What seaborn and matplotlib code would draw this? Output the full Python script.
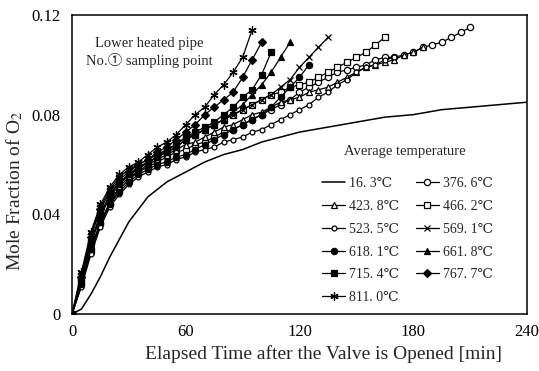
import numpy as np
import pandas as pd
import seaborn as sns
import matplotlib.pyplot as plt
from matplotlib.ticker import MultipleLocator, FuncFormatter

# 16.3 C run: continuous line, uneven time points
t_room = [0, 5, 10, 15, 20, 25, 30, 40, 50, 60, 70, 80, 90, 100, 110, 120,
          135, 150, 165, 180, 195, 210, 225, 240]
y_room = [0, 0.002, 0.008, 0.015, 0.023, 0.030, 0.037, 0.047, 0.053, 0.057, 0.061, 0.064,
          0.066, 0.069, 0.071, 0.073, 0.075, 0.077, 0.079, 0.080, 0.082, 0.083, 0.084, 0.085]

# heated runs, sampled every 5 min from t = 0
y_376 = [0, 0.012, 0.025, 0.036, 0.044, 0.050, 0.054, 0.057, 0.059, 0.061, 0.063, 0.065,
         0.066, 0.068, 0.069, 0.071, 0.073, 0.074, 0.076, 0.078, 0.080, 0.082, 0.084, 0.086,
         0.089, 0.091, 0.093, 0.095, 0.097, 0.098, 0.099, 0.100, 0.102, 0.103, 0.103, 0.104,
         0.105, 0.107, 0.108, 0.109, 0.111, 0.113, 0.115]
y_423 = [0, 0.012, 0.026, 0.037, 0.045, 0.051, 0.055, 0.057, 0.060, 0.062, 0.064, 0.066,
         0.068, 0.069, 0.071, 0.073, 0.075, 0.076, 0.078, 0.080, 0.081, 0.083, 0.085, 0.086,
         0.087, 0.089, 0.090, 0.091, 0.093, 0.095, 0.097, 0.099, 0.100, 0.101, 0.102, 0.104,
         0.105, 0.107]
y_466 = [0, 0.014, 0.029, 0.040, 0.048, 0.053, 0.056, 0.058, 0.061, 0.063, 0.065, 0.067,
         0.070, 0.072, 0.074, 0.076, 0.078, 0.080, 0.082, 0.084, 0.086, 0.088,
         0.089, 0.091, 0.092, 0.093, 0.095, 0.097, 0.099, 0.101, 0.103, 0.105, 0.108, 0.111]
y_523 = [0, 0.011, 0.024, 0.035, 0.043, 0.048, 0.052, 0.055, 0.057, 0.059, 0.060, 0.062,
         0.063, 0.065, 0.066, 0.067, 0.069, 0.070, 0.071, 0.073, 0.074, 0.076, 0.078, 0.080,
         0.082, 0.084, 0.087, 0.089, 0.092, 0.094, 0.097, 0.099, 0.100, 0.102, 0.103]
y_569 = [0, 0.016, 0.032, 0.043, 0.050, 0.055, 0.058, 0.060, 0.062, 0.064, 0.066, 0.068,
         0.071, 0.072, 0.074, 0.076, 0.078, 0.080, 0.082, 0.084, 0.086, 0.088,
         0.091, 0.094, 0.099, 0.103, 0.107, 0.111]
y_618 = [0, 0.012, 0.026, 0.037, 0.044, 0.049, 0.053, 0.056, 0.058, 0.060, 0.061, 0.063,
         0.064, 0.066, 0.068, 0.070, 0.072, 0.074, 0.076, 0.078, 0.080, 0.083, 0.087, 0.091,
         0.095, 0.100]
y_661 = [0, 0.013, 0.028, 0.039, 0.047, 0.052, 0.056, 0.058, 0.061, 0.063, 0.065, 0.067,
         0.070, 0.072, 0.074, 0.076, 0.078, 0.081, 0.084, 0.088, 0.092, 0.097, 0.103, 0.109]
y_715 = [0, 0.014, 0.029, 0.040, 0.048, 0.053, 0.056, 0.059, 0.061, 0.063, 0.066, 0.068,
         0.071, 0.073, 0.075, 0.077, 0.080, 0.083, 0.087, 0.090, 0.096, 0.105]
y_767 = [0, 0.015, 0.031, 0.042, 0.049, 0.054, 0.057, 0.060, 0.062, 0.065, 0.067, 0.070,
         0.073, 0.076, 0.080, 0.083, 0.086, 0.089, 0.095, 0.102, 0.109]
y_811 = [0, 0.017, 0.033, 0.044, 0.051, 0.056, 0.059, 0.061, 0.064, 0.067, 0.069, 0.072,
         0.076, 0.080, 0.083, 0.088, 0.092, 0.097, 0.103, 0.114]

labels = ['16. 3℃', '376. 6℃', '423. 8℃', '466. 2℃', '523. 5℃', '569. 1℃',
          '618. 1℃', '661. 8℃', '715. 4℃', '767. 7℃', '811. 0℃']
heated = [y_376, y_423, y_466, y_523, y_569, y_618, y_661, y_715, y_767, y_811]

# marker, size, filled
styles = [('o', 4.5, False), ('^', 4.5, False), ('s', 5, False), ('o', 3.5, False),
          ('x', 5, False), ('o', 4.5, True), ('^', 5, True), ('s', 5, True),
          ('D', 3.8, True), ((6, 2, 0), 6, False)]

sns.set_style('white')
serif = ['Liberation Serif', 'DejaVu Serif', 'Noto Sans CJK SC']
plt.rcParams['font.family'] = serif
plt.rcParams['mathtext.fontset'] = 'stix'

fig = plt.figure(figsize=(5.39, 3.71), dpi=100)
ax = fig.add_axes([0.1336, 0.1536, 0.8441, 0.806])

sns.lineplot(x=t_room, y=y_room, ax=ax, color='k', lw=1.1, label=labels[0])
for ys, lab, (m, ms, filled) in zip(heated, labels[1:], styles):
    t = np.arange(len(ys)) * 5
    sns.lineplot(x=t, y=ys, ax=ax, color='k', lw=0.9, marker=m, markersize=ms,
                 markerfacecolor='k' if filled else 'white', markeredgecolor='k',
                 markeredgewidth=0.9, label=lab)

ax.set_xlim(0, 240)
ax.set_ylim(0, 0.12)
ax.xaxis.set_major_locator(MultipleLocator(60))
ax.xaxis.set_minor_locator(MultipleLocator(10))
ax.yaxis.set_major_locator(MultipleLocator(0.04))
ax.yaxis.set_minor_locator(MultipleLocator(0.02))
ax.yaxis.set_major_formatter(FuncFormatter(lambda v, p: '0' if v == 0 else '%.2f' % v))
ax.tick_params(which='both', direction='in', colors='k', labelsize=12)
ax.tick_params(which='major', length=4, width=0.8)
ax.tick_params(which='minor', length=3, width=0.6)
ax.tick_params(axis='x', pad=7)
ax.tick_params(axis='y', pad=8)
for s in ax.spines.values():
    s.set_color('k')
    s.set_linewidth(1.1)

ax.set_xlabel('Elapsed Time after the Valve is Opened [min]', fontsize=14)
ax.xaxis.set_label_coords(0.552, -0.105)
ax.set_ylabel('Mole Fraction of O$_2$', fontsize=14)
ax.yaxis.set_label_coords(-0.103, 0.41)

ax.text(41, 0.105, 'Lower heated pipe\nNo.① sampling point', ha='center', va='center',
        fontsize=10.5, linespacing=1.2)
ax.text(175.5, 0.0651, 'Average temperature', ha='center', va='center', fontsize=10.5)

h, l = ax.get_legend_handles_labels()
order = [0, 2, 4, 6, 8, 10, 1, 3, 5, 7, 9]
leg = ax.legend([h[i] for i in order], [l[i] for i in order], ncol=2,
                frameon=False, loc='upper left', bbox_to_anchor=(0.549, 0.457),
                fontsize=10, handlelength=1.7, handletextpad=0.25, columnspacing=1.2,
                labelspacing=0.7, borderaxespad=0, borderpad=0)

fig.savefig('out.png', dpi=100)
